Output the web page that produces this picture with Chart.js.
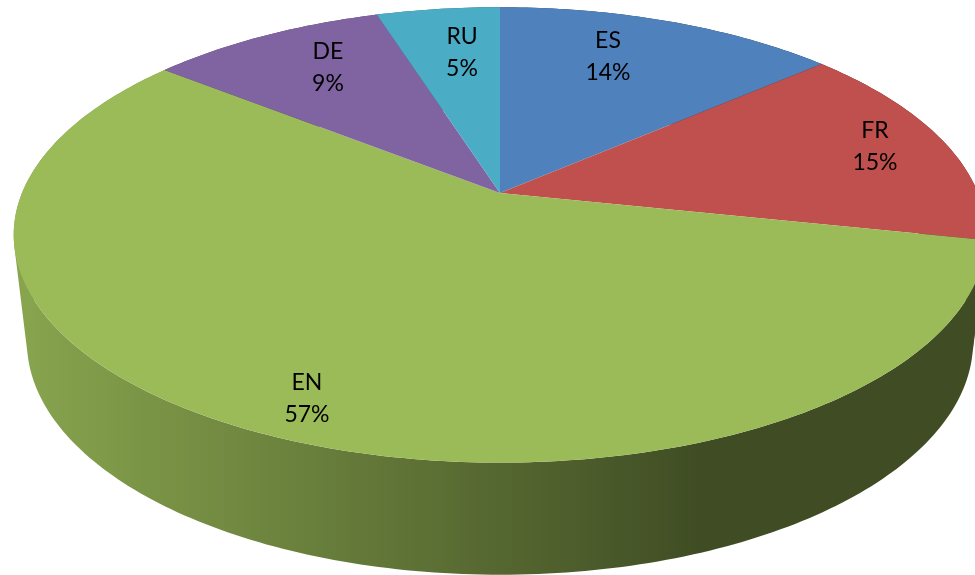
<!DOCTYPE html>
<html>
<head>
<meta charset="utf-8">
<script src="https://cdn.jsdelivr.net/npm/chart.js@4"></script>
<style>
    html, body { margin: 0; padding: 0; background: #fff; overflow: hidden; }
    canvas { display: block; }
</style>
</head>
<body>
<canvas id="chart-pie" width="975" height="575"></canvas>
<script>
const categories = ['ES', 'FR', 'EN', 'DE', 'RU'];
const shares = [13.6, 14.7, 57.4, 9.4, 4.9];
const sliceColors = ['#4F81BD', '#C0504D', '#9BBB59', '#8064A2', '#4BACC6'];

// where excel left the labels, one per slice
const labelSpots = [[608, 57], [875, 147], [307, 399], [328, 68], [462, 53]];

// perspective of the tilted disc: top face and bottom rim
const tilt = 0.184;
const topFace = { x: 500, y: 193, a: 478, b: 220 };
const bottomRim = { x: 500, y: 299, a: 465, b: 225 };

// angle comes from the arc element, 0 is at 3 o'clock like in chart.js
const project = (disc, angle) => {
    const u = Math.cos(angle);
    const v = Math.sin(angle);
    const w = 1 - tilt * v;
    return [disc.x + disc.a * u / w, disc.y + disc.b * v / w];
};

const rimPoints = (disc, start, end) => {
    const steps = Math.max(2, Math.ceil((end - start) * 60));
    const pts = [];
    for (let i = 0; i <= steps; i++) {
        pts.push(project(disc, start + (end - start) * i / steps));
    }
    return pts;
};

const shade = (hex, f) => {
    const n = parseInt(hex.slice(1), 16);
    return `rgb(${Math.round((n >> 16) * f)}, ${Math.round(((n >> 8) & 255) * f)}, ${Math.round((n & 255) * f)})`;
};

const addPoly = (ctx, pts) => {
    // same winding everywhere or overlapping quads cancel out in the fill
    let area = 0;
    pts.forEach((p, i) => {
        const q = pts[(i + 1) % pts.length];
        area += p[0] * q[1] - q[0] * p[1];
    });
    const list = area < 0 ? pts.slice().reverse() : pts;
    list.forEach((p, i) => i ? ctx.lineTo(p[0], p[1]) : ctx.moveTo(p[0], p[1]));
    ctx.closePath();
};

const pie3d = {
    id: 'pie3d',
    beforeDatasetsDraw(chart) {
        const ctx = chart.ctx;
        const arcs = chart.getDatasetMeta(0).data;

        ctx.save();
        // side wall first, the top face covers the part at the back
        arcs.forEach(arc => {
            const color = arc.options.backgroundColor;
            const upper = rimPoints(topFace, arc.startAngle, arc.endAngle);
            const lower = rimPoints(bottomRim, arc.startAngle, arc.endAngle);
            const grad = ctx.createLinearGradient(15, 0, 700, 0);
            grad.addColorStop(0, shade(color, 0.88));
            grad.addColorStop(1, shade(color, 0.41));
            ctx.beginPath();
            for (let i = 1; i < upper.length; i++) {
                addPoly(ctx, [upper[i - 1], upper[i], lower[i], lower[i - 1]]);
            }
            ctx.fillStyle = grad;
            ctx.fill();
        });
        arcs.forEach(arc => {
            const rim = rimPoints(topFace, arc.startAngle, arc.endAngle);
            ctx.beginPath();
            addPoly(ctx, [[topFace.x, topFace.y]].concat(rim));
            ctx.fillStyle = arc.options.backgroundColor;
            ctx.fill();
        });

        ctx.fillStyle = '#000';
        ctx.font = '23px Lato';
        ctx.textAlign = 'center';
        ctx.textBaseline = 'middle';
        categories.forEach((name, i) => {
            const [x, y] = labelSpots[i];
            ctx.fillText(name, x, y - 16);
            ctx.fillText(Math.round(shares[i]) + '%', x, y + 16);
        });
        ctx.restore();
        return false;
    }
};

new Chart(document.getElementById('chart-pie'), {
    type: 'pie',
    data: {
        labels: categories,
        datasets: [{ data: shares, backgroundColor: sliceColors, borderWidth: 0 }]
    },
    options: {
        responsive: false,
        animation: false,
        plugins: { legend: { display: false }, tooltip: { enabled: false } }
    },
    plugins: [pie3d]
});
</script>
</body>
</html>
